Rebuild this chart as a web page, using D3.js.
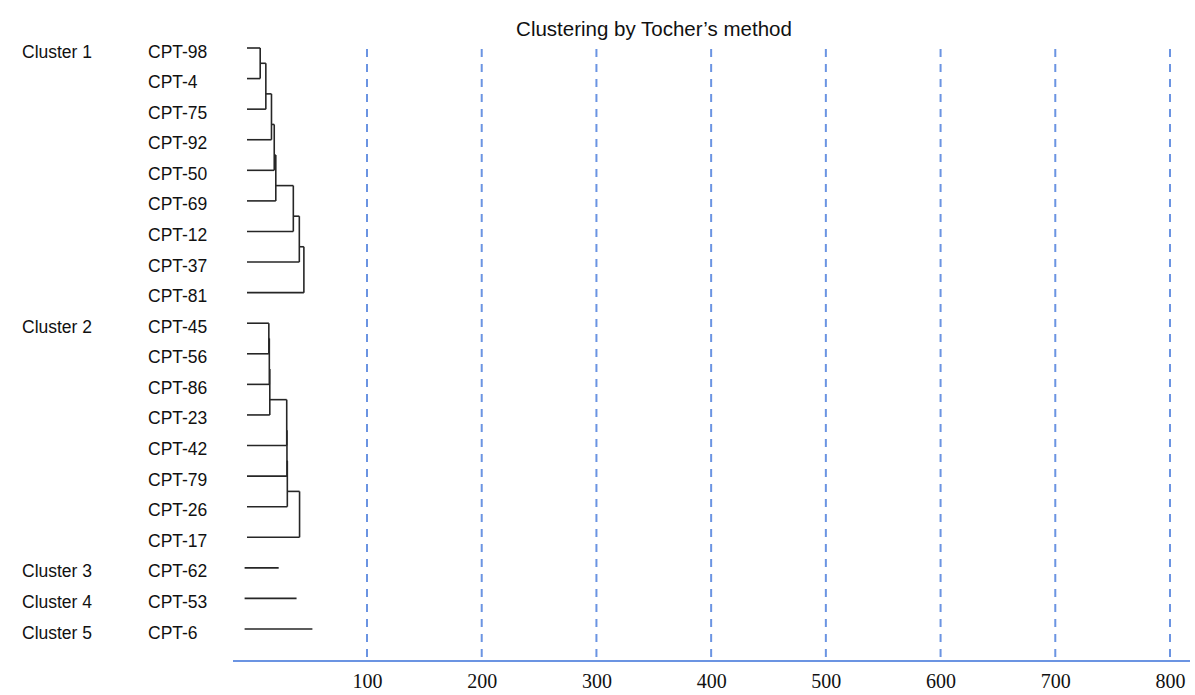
<!DOCTYPE html>
<html>
<head>
<meta charset="utf-8">
<script src="https://cdn.jsdelivr.net/npm/d3@7"></script>
<style>
  html, body { margin: 0; padding: 0; background: #ffffff; }
  svg text { font-family: "Liberation Sans", Arial, sans-serif; fill: #111; }
  .tick-label { font-family: "Liberation Serif", "Times New Roman", serif; }
</style>
</head>
<body>
<div id="chart"></div>
<script>
// ── Data ──────────────────────────────────────────────────
const genotypes = [
  "CPT-98", "CPT-4", "CPT-75", "CPT-92", "CPT-50", "CPT-69", "CPT-12", "CPT-37", "CPT-81",
  "CPT-45", "CPT-56", "CPT-86", "CPT-23", "CPT-42", "CPT-79", "CPT-26", "CPT-17",
  "CPT-62", "CPT-53", "CPT-6"
];
const clusterNames = ["Cluster 1", "Cluster 2", "Cluster 3", "Cluster 4", "Cluster 5"];
const clusterMembers = [
  ["CPT-98", "CPT-4", "CPT-75", "CPT-92", "CPT-50", "CPT-69", "CPT-12", "CPT-37", "CPT-81"],
  ["CPT-45", "CPT-56", "CPT-86", "CPT-23", "CPT-42", "CPT-79", "CPT-26", "CPT-17"],
  ["CPT-62"],
  ["CPT-53"],
  ["CPT-6"]
];
// fusion level at which each next member joins (singletons: branch length)
const fusionLevels = [
  [11, 15.7, 20.4, 22.7, 24, 38.6, 43.6, 47.4],
  [18.2, 18.6, 19, 33.1, 33.3, 33.6, 43.8],
  [26.4],
  [41.3],
  [54.5]
];
const tickValues = [100, 200, 300, 400, 500, 600, 700, 800];
const title = "Clustering by Tocher\u2019s method";

// ── Layout ────────────────────────────────────────────────
const W = 1195, H = 695;
const axisY = 661;
const blue = "#6b94e2";
const ink = "#262626";

const svg = d3.select("#chart").append("svg")
  .attr("width", W).attr("height", H);

// distance scale (the original axis is not evenly stretched near zero)
const x = d3.scaleLinear().domain([0, 100, 800]).range([247, 367, 1170]);
const y = d3.scalePoint().domain(genotypes).range([48, 629]);

// Title
svg.append("text")
  .attr("x", 654).attr("y", 36)
  .attr("text-anchor", "middle")
  .style("font-size", "20.5px")
  .text(title);

// Dashed reference lines
svg.append("g").selectAll("line")
  .data(tickValues)
  .join("line")
    .attr("x1", d => x(d)).attr("x2", d => x(d))
    .attr("y1", 49).attr("y2", axisY)
    .attr("stroke", blue)
    .attr("stroke-width", 2)
    .attr("stroke-dasharray", "8,7");

// Axis
const axis = svg.append("g")
  .attr("transform", `translate(0,${axisY})`)
  .call(d3.axisBottom(x).tickValues(tickValues).tickSize(0).tickPadding(13));
axis.select(".domain").remove();
axis.selectAll("text")
  .attr("class", "tick-label")
  .style("font-size", "20px")
  .attr("fill", "#111");

svg.append("line")
  .attr("x1", 233).attr("x2", 1190)
  .attr("y1", axisY).attr("y2", axisY)
  .attr("stroke", blue).attr("stroke-width", 2);

// Genotype labels
svg.append("g").selectAll("text")
  .data(genotypes)
  .join("text")
    .attr("x", 148)
    .attr("y", d => y(d) + 9.5)
    .style("font-size", "17.5px")
    .text(d => d);

// Cluster labels
svg.append("g").selectAll("text")
  .data(clusterNames)
  .join("text")
    .attr("x", 22)
    .attr("y", (d, i) => y(clusterMembers[i][0]) + 9.5)
    .style("font-size", "17.5px")
    .text(d => d);

// Dendrogram (chain form, as Tocher clusters grow one member at a time)
const dendro = svg.append("g")
  .attr("fill", "none")
  .attr("stroke", ink)
  .attr("stroke-width", 1.6);

clusterMembers.forEach((members, ci) => {
  const levels = fusionLevels[ci];
  if (members.length === 1) {
    dendro.append("line")
      .attr("x1", x(-2)).attr("x2", x(levels[0]))
      .attr("y1", y(members[0])).attr("y2", y(members[0]));
    return;
  }
  const segs = [];
  // first leaf joins at first level
  segs.push([[x(0), y(members[0])], [x(levels[0]), y(members[0])]]);
  let nodeY = y(members[0]);
  for (let i = 1; i < members.length; i++) {
    const h = levels[i - 1];
    const ly = y(members[i]);
    segs.push([[x(0), ly], [x(h), ly]]);          // leaf branch
    segs.push([[x(h), nodeY], [x(h), ly]]);        // vertical join
    nodeY = (y(members[i - 1]) + ly) / 2;
    if (i < members.length - 1) {
      segs.push([[x(h), nodeY], [x(levels[i]), nodeY]]);
    }
  }
  dendro.selectAll(null)
    .data(segs)
    .join("path")
      .attr("d", d3.line());
});
</script>
</body>
</html>
